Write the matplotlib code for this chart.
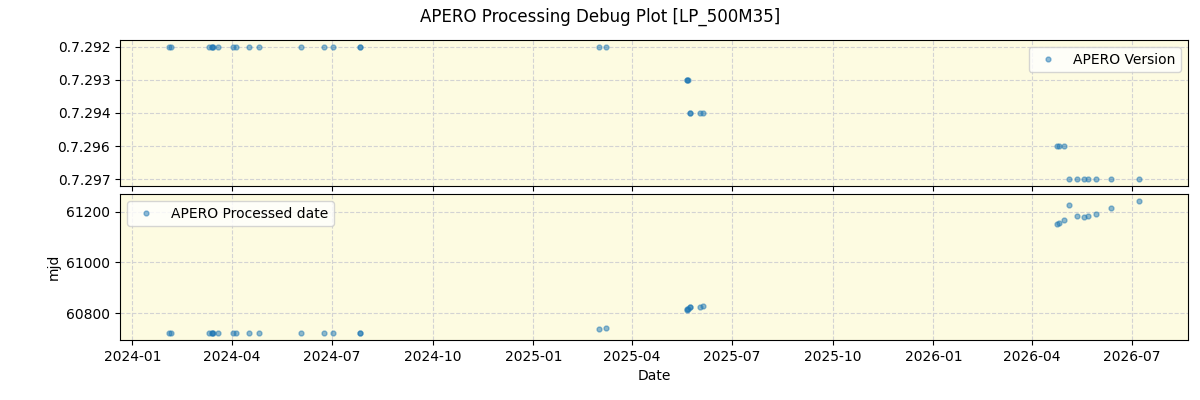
import matplotlib
matplotlib.use("Agg")
import matplotlib.pyplot as plt
import pandas as pd

# observation dates and the apero version / processed mjd for each
obs_dates = [
    "2024-02-03", "2024-02-05", "2024-03-11", "2024-03-14", "2024-03-14",
    "2024-03-15", "2024-03-19", "2024-04-02", "2024-04-05", "2024-04-16",
    "2024-04-26", "2024-06-03", "2024-06-24", "2024-07-02", "2024-07-27",
    "2024-07-27", "2025-03-02", "2025-03-08",
    "2025-05-21", "2025-05-21", "2025-05-22",
    "2025-05-24", "2025-05-24", "2025-06-02", "2025-06-05",
    "2026-04-24", "2026-04-26", "2026-04-30",
    "2026-05-05", "2026-05-12", "2026-05-18", "2026-05-22", "2026-05-29",
    "2026-06-12", "2026-07-08",
]
versions = (
    ["0.7.292"] * 18
    + ["0.7.293"] * 3
    + ["0.7.294"] * 4
    + ["0.7.296"] * 3
    + ["0.7.297"] * 7
)
proc_mjd = [
    60721, 60721, 60721, 60721, 60721,
    60721, 60721, 60721, 60721, 60721,
    60721, 60721, 60721, 60721, 60721,
    60721, 60737, 60741,
    60814, 60815, 60818,
    60823, 60825, 60826, 60829,
    61153, 61157, 61165,
    61227, 61184, 61180, 61184, 61192,
    61216, 61243,
]

dates = pd.to_datetime(obs_dates)

fig, (ax1, ax2) = plt.subplots(2, 1, figsize=(12, 4), dpi=100, sharex=True)
fig.subplots_adjust(left=0.1, right=0.99, top=0.9, bottom=0.15, hspace=0.055)
fig.suptitle("APERO Processing Debug Plot [LP_500M35]")

ax1.plot(dates, versions, 'o', ms=3.5, alpha=0.5, color='tab:blue', label='APERO Version')
ax1.invert_yaxis()
ax1.legend(loc='upper right')

ax2.plot(dates, proc_mjd, 'o', ms=3.5, alpha=0.5, color='tab:blue', label='APERO Processed date')
ax2.set_ylabel('mjd')
ax2.set_xlabel('Date')
ax2.legend(loc='upper left')

for ax in (ax1, ax2):
    ax.set_facecolor('#fdfbe1')
    ax.grid(True, linestyle='--', color='lightgray')

fig.savefig("out.png")
